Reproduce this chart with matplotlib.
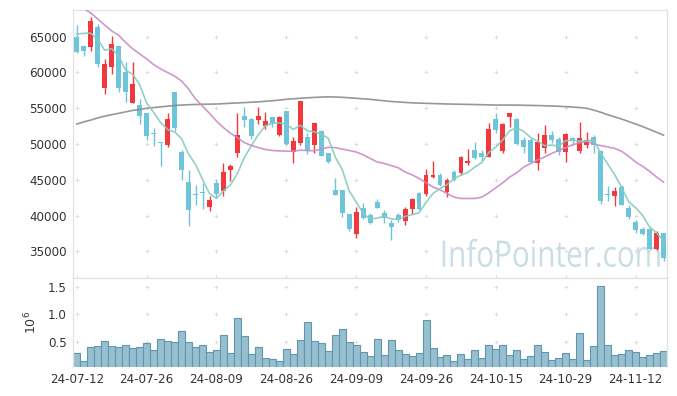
import matplotlib
matplotlib.use("Agg")
import matplotlib.pyplot as plt
import numpy as np
import pandas as pd
from matplotlib.textpath import TextPath
from matplotlib.patches import PathPatch
from matplotlib.font_manager import FontProperties
from matplotlib.transforms import Affine2D, IdentityTransform

dates = ["24-07-12", "24-07-26", "24-08-09", "24-08-26", "24-09-09",
         "24-09-26", "24-10-15", "24-10-29", "24-11-12"]

opens = [65000, 63700, 63600, 66400, 57900, 60700, 63700, 60050, 55800, 55450,
         54400, 51550, 50300, 49900, 57300, 48950, 44750, 42950, 43250, 41150,
         44500, 43500, 46400, 48700, 53900, 53450, 53350, 52550, 53800, 51250,
         54600, 48950, 50200, 51050, 49850, 51850, 48700, 43600, 43600, 40250,
         37450, 41000, 40100, 41850, 40400, 38950, 40100, 39300, 40950, 43200,
         43000, 45450, 45700, 43350, 46150, 46000, 47300, 49150, 48800, 48250,
         53450, 49100, 53750, 53450, 50550, 50550, 47400, 49400, 51250, 50650,
         48950, 50900, 49100, 49850, 50950, 49100, 42900, 42750, 44050, 41000,
         39150, 38100, 38100, 35300, 37550]
highs = [66650, 63700, 67800, 66750, 61950, 65100, 63700, 61400, 61400, 56250,
         54400, 52200, 50300, 54400, 57300, 49150, 46400, 44300, 44500, 42750,
         45050, 47400, 47200, 54400, 55200, 53600, 55150, 54550, 53850, 53900,
         54600, 50950, 56000, 51600, 53000, 51950, 48800, 45200, 43600, 40250,
         41250, 41700, 40400, 42300, 40800, 39400, 40350, 41250, 42400, 43350,
         46450, 47700, 45900, 45200, 46400, 48350, 49250, 50350, 49150, 52900,
         54300, 52900, 54400, 53600, 51050, 50800, 51500, 52650, 51850, 51050,
         51500, 51050, 53150, 51750, 51300, 49150, 44150, 44050, 44300, 41500,
         39400, 38450, 38450, 37900, 37600]
lows = [62750, 62300, 63000, 60800, 56950, 59750, 57300, 55900, 55800, 52800,
        50550, 49700, 47000, 49550, 51850, 45000, 38550, 41500, 40950, 40700,
        42550, 42750, 44900, 48250, 52450, 50650, 52800, 52050, 52350, 51100,
        49850, 47300, 49850, 48600, 48700, 48300, 47400, 42900, 39850, 37900,
        36850, 39500, 38900, 41000, 39000, 36600, 39150, 38700, 40300, 40750,
        42750, 45200, 44150, 42650, 44900, 45700, 47050, 47850, 47700, 48150,
        51600, 48800, 52450, 49850, 48700, 47400, 46400, 48800, 50100, 48450,
        47550, 49850, 48700, 49400, 48700, 41650, 42100, 41350, 41500, 39600,
        37550, 37300, 35300, 35200, 33700]
closes = [62900, 63050, 67200, 61200, 61200, 63950, 57900, 57300, 58400, 53950,
          51100, 51450, 50200, 53500, 52200, 46400, 40800, 42850, 43150, 42200,
          43000, 46150, 46950, 51250, 53350, 51150, 53900, 53200, 52900, 53750,
          49950, 50450, 56000, 49150, 53000, 48350, 47550, 42900, 40400, 38150,
          40450, 39650, 39000, 41000, 39650, 38450, 39400, 40950, 42300, 40900,
          45700, 45700, 44300, 45050, 45000, 48250, 47700, 48000, 48250, 52050,
          51950, 52800, 54400, 50050, 49650, 47550, 50350, 51250, 50500, 48950,
          51400, 50500, 50800, 50500, 49850, 42100, 42850, 43450, 41500, 39850,
          38000, 37450, 35300, 37550, 34050]
volumes = [300000, 160000, 410000, 430000, 520000, 430000, 410000, 450000, 390000, 410000,
           480000, 350000, 555000, 520000, 500000, 700000, 500000, 410000, 450000, 320000,
           350000, 630000, 300000, 940000, 610000, 280000, 410000, 210000, 190000, 155000,
           370000, 280000, 540000, 860000, 520000, 480000, 340000, 630000, 740000, 500000,
           450000, 320000, 245000, 555000, 260000, 540000, 350000, 280000, 245000, 300000,
           900000, 390000, 230000, 260000, 155000, 280000, 190000, 350000, 210000, 450000,
           370000, 450000, 260000, 350000, 190000, 245000, 450000, 320000, 170000, 210000,
           300000, 190000, 660000, 170000, 430000, 1520000, 450000, 260000, 280000, 350000,
           320000, 230000, 260000, 300000, 340000]
# first four 5-day MA values (need closes before the window)
ma5_head = [65370, 65470, 65500, 64600]
ma20 = [69300, 68950, 68310, 67470, 66630, 65800, 65200, 64200, 63300, 62600,
        61900, 61100, 60500, 60000, 59500, 58800, 57700, 56300, 55300, 54300,
        53200, 52300, 51500, 50900, 50200, 49800, 49500, 49250, 49100, 49050,
        49000, 49000, 49150, 49100, 49050, 49300, 49550, 49500, 49300, 49100,
        48900, 48500, 48000, 47500, 47300, 47000, 46700, 46100, 45700, 45200,
        44600, 44000, 43600, 43100, 42600, 42400, 42400, 42400, 42600, 43200,
        43900, 44600, 45400, 46000, 46800, 47300, 47800, 48200, 48700, 49100,
        49500, 49900, 50200, 50400, 50000, 49800, 49600, 49400, 49000, 48300,
        47500, 46900, 46200, 45400, 44700]
ma_long = [52800, 53100, 53350, 53650, 53900, 54100, 54300, 54500, 54700, 54850,
           55000, 55100, 55200, 55300, 55380, 55450, 55500, 55530, 55560, 55580,
           55600, 55650, 55700, 55750, 55800, 55850, 55900, 55980, 56060, 56150,
           56250, 56330, 56400, 56460, 56520, 56560, 56600, 56580, 56530, 56470,
           56400, 56320, 56250, 56150, 56050, 55950, 55880, 55820, 55760, 55720,
           55690, 55660, 55630, 55600, 55580, 55560, 55540, 55520, 55500, 55470,
           55450, 55450, 55450, 55440, 55420, 55400, 55380, 55350, 55320, 55280,
           55230, 55170, 55100, 55000, 54750, 54450, 54100, 53800, 53500, 53150,
           52800, 52450, 52050, 51650, 51250]

n = len(closes)
x = np.arange(n)
o = np.array(opens, float); h = np.array(highs, float)
l = np.array(lows, float); c = np.array(closes, float)
ma5 = pd.Series(c).rolling(5).mean().to_numpy()
ma5[:4] = ma5_head

UP = "#f0383d"
DOWN = "#6ec4d9"
LBL = "#333333"
GRID = "#dcdcdc"

plt.rcParams["font.family"] = ["DejaVu Sans"]
fig = plt.figure(figsize=(6.77, 3.96), dpi=100)
W, H = 677, 396
L, R = 73.3 / W, 667 / W
ax = fig.add_axes([L, 1 - 277.5 / H, R - L, (277.5 - 10) / H])
axv = fig.add_axes([L, 1 - 367.3 / H, R - L, (367.3 - 277.5) / H], sharex=ax)

# watermark: text outline squeezed to the reference's box (pixels)
tp = TextPath((0, 0), "InfoPointer.com", size=100, prop=FontProperties(family="Open Sans"))
ext = tp.get_extents()
wm_w, wm_cap = 217.0, 26.0
sx = wm_w / ext.width
sy = wm_cap / 71.4
tr = Affine2D().translate(-ext.x0, 0).scale(sx, sy).translate(442.7, H - 266.7)
wm = PathPatch(tp, transform=tr + IdentityTransform(), facecolor="#cadde6",
               edgecolor="none", zorder=0)
ax.add_artist(wm)

up = c >= o
colors = np.where(up, UP, DOWN)
bottoms = np.minimum(o, c)
heights = np.maximum(np.abs(c - o), 110)
ax.vlines(x, l, h, colors=colors, lw=1.0, zorder=2)
ax.bar(x, heights, bottom=bottoms, width=0.7, color=colors, edgecolor="none", zorder=3)

ax.plot(x, ma_long, color="#8c8c8c", lw=1.2, alpha=0.9, zorder=4)
ax.plot(x, ma20, color="#c98cc6", lw=1.2, alpha=0.9, zorder=4)
ax.plot(x, ma5, color="#86cbc0", lw=1.2, alpha=0.9, zorder=4)

xt = np.arange(0, n, 10)
yt = np.arange(35000, 65001, 5000)
ax.set_xlim(-0.5, n - 0.5)
ax.set_ylim(31360, 68730)
ax.set_yticks(yt)
ax.set_yticklabels([str(v) for v in yt])
ax.set_xticks(xt)
ax.tick_params(axis="x", labelbottom=False, direction="inout", length=4, color=GRID, width=0.8)
ax.tick_params(axis="y", length=0, pad=4.8, labelsize=8.6, labelcolor=LBL)
gx, gy = np.meshgrid(xt, yt)
ax.scatter(gx.ravel(), gy.ravel(), marker="+", s=8, lw=0.7, color=GRID, zorder=1)
for s in ax.spines.values():
    s.set_color("#e2e2e2"); s.set_linewidth(0.9)

axv.bar(x, volumes, width=1.0, color="#97bfcf", edgecolor="#5f97b0", lw=0.8, zorder=2)
axv.set_ylim(45000, 1669000)
vt = [500000, 1000000, 1500000]
axv.set_yticks(vt)
axv.set_yticklabels(["0.5", "1.0", "1.5"])
axv.set_xticks(xt)
axv.set_xticklabels(dates)
axv.tick_params(axis="x", length=0, pad=4.2, labelsize=8.6, labelcolor=LBL)
axv.tick_params(axis="y", length=0, pad=4.8, labelsize=8.6, labelcolor=LBL)
vgx, vgy = np.meshgrid(xt, vt)
axv.scatter(vgx.ravel(), vgy.ravel(), marker="+", s=8, lw=0.7, color=GRID, zorder=1)
axv.set_ylabel(r"$10^6$", fontsize=9, color=LBL)
axv.yaxis.set_label_coords(-0.058, 0.5)
for s in axv.spines.values():
    s.set_color("#e2e2e2"); s.set_linewidth(0.9)
axv.spines["bottom"].set_visible(False)

fig.savefig("out.png", dpi=100)
